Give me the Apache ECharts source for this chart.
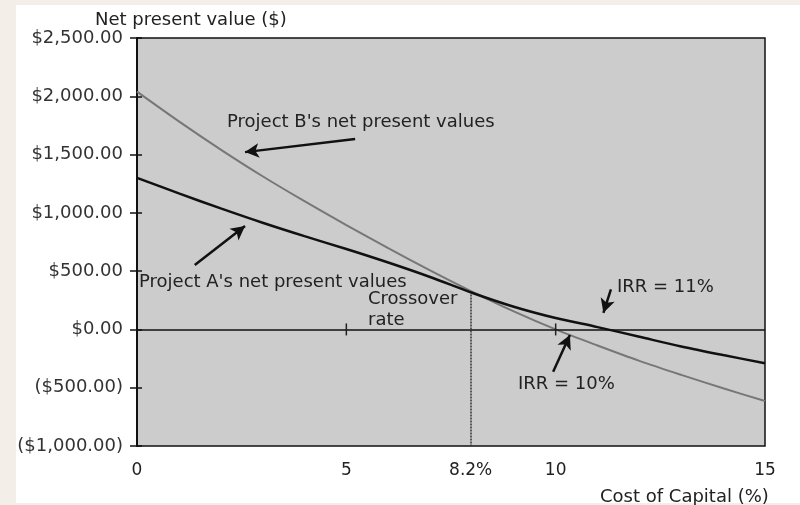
<!DOCTYPE html>
<html>
<head>
<meta charset="utf-8">
<script src="https://cdn.jsdelivr.net/npm/echarts@6/dist/echarts.min.js"></script>
<style>
html,body{margin:0;padding:0;background:#f3eee8;}
#main{width:800px;height:505px;}
</style>
</head>
<body>
<div id="main"></div>
<script>
// 数据
var rates=[0,1,2,3,4,5,6,7,8,9,10,11,12,13,14,15];
var npvA=[1300,1167,1038,915,800,690,574,450,315,195,98,20,-63,-146,-220,-290];
var npvB=[2040,1785,1543,1314,1100,895,697,507,325,155,0,-138,-270,-390,-505,-614];
var xLabelValues=[0,5,7.97,10,15];
var crossoverX=7.97;      //交叉点位置(图上)
var crossoverNPV=300;
var crossoverLabel='8.2%';
var irrTicks=[5,10];      //0线上的小刻度

var font='DejaVu Sans';
var txt='#222';

function money(v){
	var s=Math.abs(v).toFixed(2).replace(/\B(?=(\d{3})+(?!\d))/g,',');
	return v<0?'($'+s+')':'$'+s;
}
function pair(a,b){
	return a.map(function(x,i){return [x,b[i]];});
}

var myChart=echarts.init(document.getElementById('main'));
var option={
	backgroundColor:'#f3eee8',
	animation:false,
	grid:{
		left:137,right:35,top:38,bottom:59,
		show:true,
		backgroundColor:'#cccccc',
		borderColor:'#111',
		borderWidth:1.5
	},
	xAxis:{
		type:'value',min:0,max:15,
		axisLine:{show:false},
		axisTick:{show:false},
		splitLine:{show:false},
		axisLabel:{
			customValues:xLabelValues,
			margin:16,
			color:txt,
			fontFamily:font,
			fontSize:17,
			formatter:function(v){
				return v==crossoverX?crossoverLabel:v;
			}
		}
	},
	yAxis:[{
		type:'value',min:-1000,max:2500,interval:500,
		axisLine:{show:true,lineStyle:{color:'#111',width:2}},
		axisTick:{show:true,length:7,lineStyle:{color:'#111',width:1.5}},
		splitLine:{show:false},
		axisLabel:{margin:14,color:'#333',fontFamily:font,fontSize:18,formatter:money}
	},{
		type:'value',min:-1000,max:2500,interval:500,position:'left',
		axisLine:{show:false},
		axisTick:{show:true,inside:true,length:5,lineStyle:{color:'#111',width:1.5}},
		axisLabel:{show:false},
		splitLine:{show:false}
	}],
	series:[{
		name:'Project B',
		type:'line',
		data:pair(rates,npvB),
		smooth:0.3,
		symbol:'none',
		lineStyle:{color:'#777',width:2},
		markLine:{
			silent:true,
			symbol:'none',
			label:{show:false},
			data:[
				[{coord:[0,0],lineStyle:{color:'#111',width:1.5,type:'solid'}},{coord:[15,0]}],
				[{coord:[crossoverX,crossoverNPV],lineStyle:{color:'#333',width:1.5,type:[2,1]}},{coord:[crossoverX,-1000]}]
			]
		},
		markPoint:{
			silent:true,
			symbol:'rect',
			symbolSize:[1.5,12],
			itemStyle:{color:'#222'},
			label:{show:false},
			data:irrTicks.map(function(x){return {coord:[x,0]};})
		}
	},{
		name:'Project A',
		type:'line',
		data:pair(rates,npvA),
		smooth:0.3,
		symbol:'none',
		lineStyle:{color:'#111',width:2.5},
		markLine:{
			silent:true,
			symbol:['none','arrow'],
			symbolSize:[11,14],
			label:{show:false},
			lineStyle:{color:'#111',width:2.5,type:'solid'},
			data:[
				[{coord:[5.21,1633]},{coord:[2.58,1521]}],
				[{coord:[1.38,552]},{coord:[2.58,887]}],
				[{coord:[11.32,344]},{coord:[11.14,143]}],
				[{coord:[9.94,-363]},{coord:[10.34,-48]}]
			]
		}
	}],
	graphic:[
		{type:'rect',z:-100,shape:{x:16,y:5,width:784,height:498},style:{fill:'#fff'}},
		{type:'text',x:95,y:20,style:{text:'Net present value ($)',font:'18px '+font,fill:txt,verticalAlign:'middle'}},
		{type:'text',x:600,y:497,style:{text:'Cost of Capital (%)',font:'18px '+font,fill:txt,verticalAlign:'middle'}},
		{type:'text',x:227,y:122,style:{text:"Project B's net present values",font:'18px '+font,fill:txt,verticalAlign:'middle'}},
		{type:'text',x:139,y:282,style:{text:"Project A's net present values",font:'18px '+font,fill:txt,verticalAlign:'middle'}},
		{type:'text',x:368,y:299,style:{text:'Crossover',font:'18px '+font,fill:txt,verticalAlign:'middle'}},
		{type:'text',x:368,y:320,style:{text:'rate',font:'18px '+font,fill:txt,verticalAlign:'middle'}},
		{type:'text',x:617,y:287,style:{text:'IRR = 11%',font:'18px '+font,fill:txt,verticalAlign:'middle'}},
		{type:'text',x:518,y:384,style:{text:'IRR = 10%',font:'18px '+font,fill:txt,verticalAlign:'middle'}}
	]
};
myChart.setOption(option);
</script>
</body>
</html>
